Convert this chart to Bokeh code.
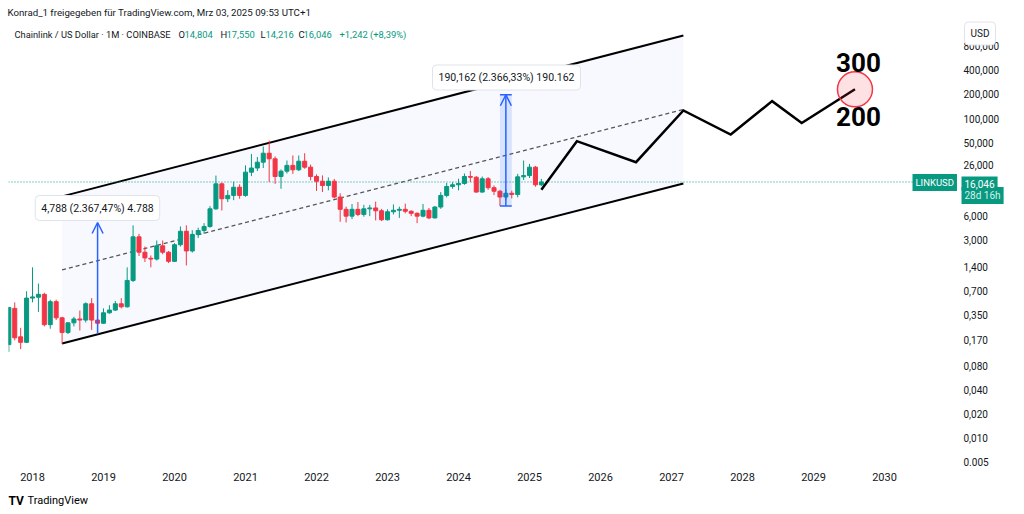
from bokeh.plotting import figure
from bokeh.models import Range1d, FixedTicker, Label, Arrow, OpenHead, ColumnDataSource
from bokeh.embed import file_html
from bokeh.resources import INLINE

# ---------------- data ----------------
months = [
    "2017-09", "2017-10", "2017-11", "2017-12",
    "2018-01", "2018-02", "2018-03", "2018-04", "2018-05", "2018-06",
    "2018-07", "2018-08", "2018-09", "2018-10", "2018-11", "2018-12",
    "2019-01", "2019-02", "2019-03", "2019-04", "2019-05", "2019-06",
    "2019-07", "2019-08", "2019-09", "2019-10", "2019-11", "2019-12",
    "2020-01", "2020-02", "2020-03", "2020-04", "2020-05", "2020-06",
    "2020-07", "2020-08", "2020-09", "2020-10", "2020-11", "2020-12",
    "2021-01", "2021-02", "2021-03", "2021-04", "2021-05", "2021-06",
    "2021-07", "2021-08", "2021-09", "2021-10", "2021-11", "2021-12",
    "2022-01", "2022-02", "2022-03", "2022-04", "2022-05", "2022-06",
    "2022-07", "2022-08", "2022-09", "2022-10", "2022-11", "2022-12",
    "2023-01", "2023-02", "2023-03", "2023-04", "2023-05", "2023-06",
    "2023-07", "2023-08", "2023-09", "2023-10", "2023-11", "2023-12",
    "2024-01", "2024-02", "2024-03", "2024-04", "2024-05", "2024-06",
    "2024-07", "2024-08", "2024-09", "2024-10", "2024-11", "2024-12",
    "2025-01", "2025-02", "2025-03",
]
opens = [
    0.148, 0.42, 0.185, 0.158,
    0.565, 0.58, 0.63, 0.263, 0.51, 0.32,
    0.21, 0.277, 0.31, 0.30, 0.48, 0.30,
    0.274, 0.37, 0.40, 0.48, 0.44, 0.94,
    3.3, 2.12, 1.78, 1.74, 2.55, 2.12,
    1.63, 2.63, 3.88, 2.2, 3.54, 3.96,
    4.45, 7.4, 15.2, 9.9, 10.9, 13.8,
    10.9, 21.3, 24.0, 28.4, 36.8, 31.3,
    18.8, 21.9, 25.9, 22.8, 29.2, 24.6,
    18.8, 16.4, 14.5, 16.4, 10.4, 7.3,
    6.0, 7.3, 6.3, 7.4, 7.6, 7.0,
    5.4, 6.8, 7.1, 7.3, 6.9, 6.5,
    6.0, 7.1, 5.7, 7.8, 10.9, 14.1,
    14.8, 15.4, 18.8, 18.4, 12.0, 17.6,
    13.6, 12.3, 10.4, 11.6, 11.2, 18.6,
    19.3, 24.6, 14.804,
]
highs = [
    0.44, 0.50, 0.24, 0.69,
    1.37, 0.86, 0.66, 0.54, 0.54, 0.33,
    0.28, 0.33, 0.395, 0.50, 0.565, 0.31,
    0.42, 0.46, 0.52, 0.565, 1.37, 4.6,
    3.6, 2.5, 1.93, 2.97, 2.97, 2.2,
    2.75, 4.45, 4.6, 4.0, 4.3, 4.9,
    8.0, 19.3, 15.8, 12.7, 16.2, 15.0,
    25.9, 36.0, 33.0, 44.5, 52.9, 33.5,
    23.0, 29.8, 34.4, 34.4, 36.8, 26.5,
    20.0, 19.4, 18.3, 17.5, 11.6, 7.9,
    8.5, 9.0, 8.3, 8.3, 9.1, 7.4,
    7.3, 8.4, 7.9, 8.6, 7.1, 6.7,
    8.5, 7.6, 8.0, 12.0, 15.6, 16.0,
    17.6, 20.5, 22.0, 19.0, 18.8, 18.5,
    14.5, 12.8, 13.0, 12.5, 20.3, 29.8,
    27.0, 25.5, 17.55,
]
lows = [
    0.12, 0.167, 0.13, 0.155,
    0.50, 0.38, 0.25, 0.234, 0.30, 0.152,
    0.20, 0.25, 0.222, 0.28, 0.226, 0.2023,
    0.27, 0.36, 0.39, 0.42, 0.43, 0.90,
    1.9, 1.6, 1.37, 1.67, 2.0, 1.55,
    1.6, 2.5, 1.45, 2.1, 3.2, 3.6,
    4.3, 7.2, 7.06, 9.0, 9.5, 9.9,
    10.5, 19.0, 22.0, 24.0, 16.0, 15.2,
    13.2, 20.5, 20.3, 22.0, 23.5, 16.8,
    12.4, 12.0, 12.6, 10.0, 5.1, 5.0,
    5.5, 6.0, 5.9, 6.0, 5.3, 5.2,
    5.3, 6.3, 5.7, 6.5, 6.0, 4.9,
    5.8, 5.5, 5.6, 7.4, 10.3, 13.2,
    12.6, 14.8, 16.0, 11.8, 11.8, 12.8,
    11.0, 8.04, 9.5, 10.0, 10.3, 17.0,
    18.0, 14.0, 14.216,
]
closes = [
    0.43, 0.18, 0.158, 0.565,
    0.585, 0.63, 0.263, 0.51, 0.32, 0.21,
    0.277, 0.31, 0.30, 0.48, 0.30, 0.274,
    0.37, 0.40, 0.48, 0.44, 0.94, 3.3,
    2.12, 1.8, 1.74, 2.55, 2.12, 1.63,
    2.63, 3.88, 2.2, 3.54, 3.96, 4.45,
    7.4, 15.2, 9.9, 10.9, 13.8, 10.9,
    21.3, 24.0, 28.4, 36.8, 31.3, 18.8,
    21.9, 25.9, 22.8, 29.2, 24.6, 18.8,
    16.4, 14.5, 16.4, 10.4, 7.3, 6.0,
    7.3, 6.3, 7.4, 7.6, 7.0, 5.4,
    6.8, 7.1, 7.3, 6.9, 6.5, 6.0,
    7.1, 5.7, 7.8, 10.9, 14.1, 14.8,
    15.4, 18.8, 18.4, 12.0, 17.6, 13.6,
    12.3, 10.4, 11.6, 11.2, 18.6, 19.3,
    24.6, 14.8, 16.046,
]
last_price = 16.046

# regression channel drawn on the chart
channel_months = ["2018-06", "2027-03"]
channel_upper = [10.6, 1094.0]
channel_mid = [1.273, 129.8]
channel_lower = [0.153, 15.4]

# hand-drawn projection path and target
proj_months = ["2025-03", "2025-09", "2026-07", "2027-03", "2027-11", "2028-06", "2028-11", "2029-08"]
proj_values = [12.8, 52.0, 28.4, 126.0, 63.0, 165.0, 88.0, 232.0]
target_labels = ["300", "200"]

# price-range measurements
meas_months = ["2018-12", "2024-09"]
meas_low = [0.2023, 8.036]
meas_high = [4.990, 198.198]
meas_text = ["4,788 (2.367,47%) 4.788", "190,162 (2.366,33%) 190.162"]

price_ticks = [0.005, 0.01, 0.02, 0.04, 0.08, 0.17, 0.35, 0.7, 1.4, 3, 6, 26, 50, 100, 200, 400, 800]
price_tick_labels = ["0.005", "0,010", "0,020", "0,040", "0,080", "0,170", "0,350", "0,700", "1,400",
                     "3,000", "6,000", "26,000", "50,000", "100,000", "200,000", "400,000", "800,000"]
year_labels = ["2018", "2019", "2020", "2021", "2022", "2023", "2024", "2025", "2026", "2027", "2028", "2029", "2030"]

GREEN = "#089981"
RED = "#f23645"
BLUE = "#2962ff"
TXT = "#131722"
FONT = "Roboto"


def mi(s):
    y, m = s.split("-")
    return (int(y) - 2018) * 12 + int(m) - 1


# screen position helpers (reference pixel -> data coordinates) for annotations
def sx(X):
    return (X - 32.0) / 5.917


def sy(Y):
    return 10 ** (2 - (Y - 118.0) / 79.9)


xs = [mi(s) for s in months]
colors = [GREEN if c >= o else RED for o, c in zip(opens, closes)]
src = ColumnDataSource(dict(
    x=xs, h=highs, l=lows,
    top=[max(o, c) for o, c in zip(opens, closes)],
    bot=[min(o, c) for o, c in zip(opens, closes)],
    color=colors,
))

p = figure(width=1024, height=514, y_axis_type="log", y_axis_location="right",
           x_range=Range1d(sx(8), sx(1016)), y_range=Range1d(sy(470), sy(20)),
           output_backend="svg", toolbar_location=None,
           min_border_left=8, min_border_right=8, min_border_top=20, min_border_bottom=44)
p.outline_line_color = None
p.grid.visible = False
p.background_fill_color = "white"
p.border_fill_color = "white"

# channel
cx = [mi(s) for s in channel_months]
p.patch([cx[0], cx[1], cx[1], cx[0]],
        [channel_upper[0], channel_upper[1], channel_lower[1], channel_lower[0]],
        fill_color=BLUE, fill_alpha=0.035, line_color=None)
p.line(cx, channel_upper, line_color="black", line_width=2)
p.line(cx, channel_lower, line_color="black", line_width=2)
p.line(cx, channel_mid, line_color="#555555", line_width=1.2, line_dash="4 3")

# last price line (up to the price scale)
p.segment(x0=[sx(8)], y0=[last_price], x1=[sx(950)], y1=[last_price],
          line_color=GREEN, line_width=1, line_dash="1 2")

# candles
p.segment(x0="x", y0="h", x1="x", y1="l", line_color="color", line_width=1, source=src)
p.vbar(x="x", width=0.68, top="top", bottom="bot", fill_color="color", line_color="color",
       line_width=1, source=src)

# measurements
m1 = mi(meas_months[1])
p.quad(left=m1 - 1, right=m1 + 1, bottom=meas_low[1], top=meas_high[1],
       fill_color=BLUE, fill_alpha=0.15, line_color=None)
p.segment(x0=[m1 - 1, m1 - 1], y0=[meas_low[1], meas_high[1]], x1=[m1 + 1, m1 + 1],
          y1=[meas_low[1], meas_high[1]], line_color=BLUE, line_width=1.5)
for i, mm in enumerate(meas_months):
    xm = mi(mm)
    p.add_layout(Arrow(end=OpenHead(size=11, line_color=BLUE, line_width=1.5),
                       x_start=xm, y_start=meas_low[i], x_end=xm, y_end=meas_high[i],
                       line_color=BLUE, line_width=1.5))

# projection path
px = [mi(s) for s in proj_months]
p.line(px, proj_values, line_color="black", line_width=2.5, line_join="miter")
p.scatter([px[-1]], [proj_values[-1]], size=35, marker="circle", fill_color=RED, fill_alpha=0.15,
          line_color=RED, line_width=1.5)

# axes
p.yaxis.fixed_location = sx(950)
p.yaxis.ticker = FixedTicker(ticks=price_ticks)
p.yaxis.major_label_overrides = {t: l for t, l in zip(price_ticks, price_tick_labels)}
p.yaxis.major_tick_line_color = None
p.yaxis.major_tick_out = 0
p.yaxis.major_tick_in = 0
p.yaxis.minor_tick_line_color = None
p.yaxis.axis_line_color = None
p.yaxis.major_label_standoff = 13
p.yaxis.major_label_text_font_size = "10px"
p.yaxis.major_label_text_color = TXT
p.yaxis.major_label_text_font = FONT

year_ticks = [12 * i for i in range(len(year_labels))]
p.xaxis.ticker = FixedTicker(ticks=year_ticks)
p.xaxis.major_label_overrides = {t: l for t, l in zip(year_ticks, year_labels)}
p.xaxis.major_tick_line_color = None
p.xaxis.major_tick_out = 0
p.xaxis.major_tick_in = 0
p.xaxis.minor_tick_line_color = None
p.xaxis.axis_line_color = None
p.xaxis.major_label_standoff = 2
p.xaxis.major_label_text_font_size = "11px"
p.xaxis.major_label_text_color = TXT
p.xaxis.major_label_text_font = FONT


def lab(X, Y, text, size="10px", color=TXT, align="left", style="normal", place="center", **kw):
    p.add_layout(Label(x=sx(X), y=sy(Y), text=text, text_font=FONT, text_font_size=size,
                       text_color=color, text_align=align, text_baseline="middle",
                       text_font_style=style, **kw), place)


# header / legend
lab(7, 12, "Konrad_1 freigegeben für TradingView.com, Mrz 03, 2025 09:53 UTC+1", size="9.7px", place="above")
lab(14, 34, "Chainlink / US Dollar · 1M · COINBASE", size="9.3px")
for X, t, c in [(178, "O", TXT), (184, "14,804", GREEN), (220, "H", TXT), (226, "17,550", GREEN),
                (260, "L", TXT), (265, "14,216", GREEN), (298, "C", TXT), (303, "16,046", GREEN),
                (339, "+1,242 (+8,39%)", GREEN)]:
    lab(X, 34, t, size="9.4px", color=c)

# measurement labels
for X, Y, t in [(97, 207.5, meas_text[0]), (506, 77, meas_text[1])]:
    lab(X, Y, t, size="10.5px", align="center", background_fill_color="white",
        border_line_color="#e0e3eb", border_line_width=1, border_radius=4, padding=6)

# target labels
lab(858, 62, target_labels[0], size="26px", color="black", align="center", style="bold")
lab(858, 116, target_labels[1], size="26px", color="black", align="center", style="bold")

# price line label and price-scale badges
lab(912, 182, "LINKUSD", size="9.5px", color="white", background_fill_color=GREEN, padding=3)
lab(964, 33, "USD", size="10px", background_fill_color="white", border_line_color="#e0e3eb",
    border_line_width=1, border_radius=4, padding=6)
lab(961, 195, "28d 16h", size="10px", color="#d7f0ea", background_fill_color=GREEN, padding=3)
lab(961, 183, "16,046", size="10px", color="white", background_fill_color=GREEN, padding=3)

# footer
lab(8, 500, "TV", size="12px", color="black", style="bold", place="below")
lab(27, 500, "TradingView", size="11px", color="black", place="below")

open("out.html", "w").write(file_html(p, INLINE))
